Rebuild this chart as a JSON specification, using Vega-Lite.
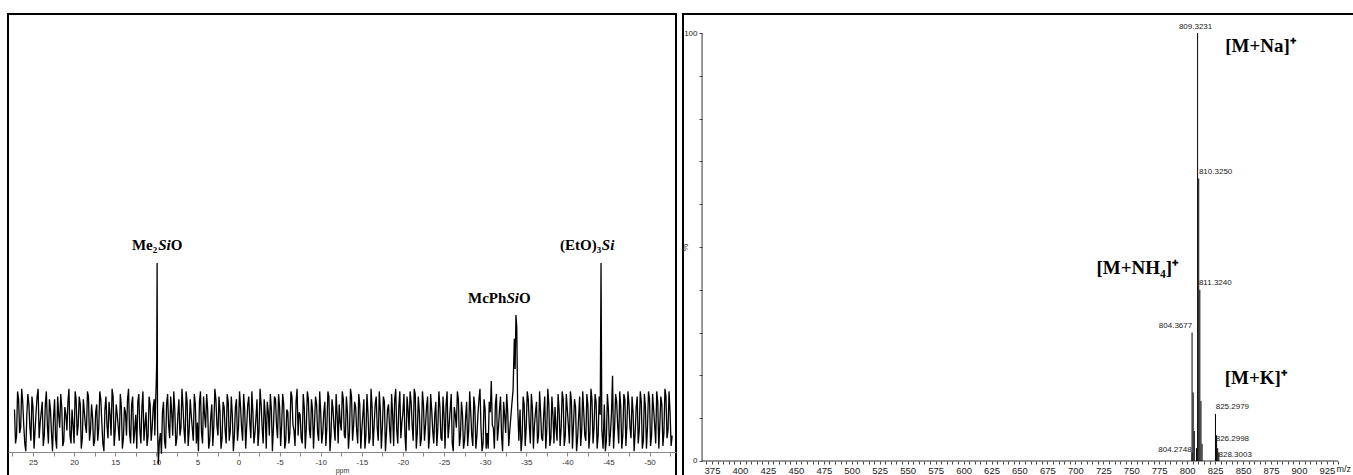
{
"$schema": "https://vega.github.io/schema/vega-lite/v6.json",
"padding": {"left": 7, "top": 13, "right": 0, "bottom": 0},
"background": "white",
"spacing": 7,
"bounds": "flush",
"config": {"view": {"stroke": "black", "strokeWidth": 2}, "axis": {"labelFont": "Liberation Sans", "titleFont": "Liberation Sans", "grid": false}},
"datasets": {
"nmr": [
{"p":27.25,"i":4},{"p":27.125,"i":-9},{"p":27,"i":-6},{"p":26.875,"i":11},{"p":26.75,"i":8},{"p":26.625,"i":-5},{"p":26.5,"i":-3},{"p":26.375,"i":12},{"p":26.25,"i":7},{"p":26.125,"i":-2},{"p":26,"i":-9},{"p":25.875,"i":-12},{"p":25.75,"i":2},{"p":25.625,"i":10},{"p":25.5,"i":6},{"p":25.375,"i":-3},{"p":25.25,"i":-8},{"p":25.125,"i":9},{"p":25,"i":5},{"p":24.875,"i":-11},{"p":24.75,"i":-4},{"p":24.625,"i":3},{"p":24.5,"i":9},{"p":24.375,"i":12},{"p":24.25,"i":-7},{"p":24.125,"i":-1},{"p":24,"i":3},{"p":23.875,"i":7},{"p":23.75,"i":-10},{"p":23.625,"i":-6},{"p":23.5,"i":6},{"p":23.375,"i":11},{"p":23.25,"i":-2},{"p":23.125,"i":-9},{"p":23,"i":8},{"p":22.875,"i":4},{"p":22.75,"i":-5},{"p":22.625,"i":-12},{"p":22.5,"i":1},{"p":22.375,"i":8},
{"p":22.25,"i":-7},{"p":22.125,"i":-11},{"p":22,"i":9},{"p":21.875,"i":2},{"p":21.75,"i":-3},{"p":21.625,"i":10},{"p":21.5,"i":5},{"p":21.375,"i":-10},{"p":21.25,"i":-8},{"p":21.125,"i":5},{"p":21,"i":2},{"p":20.875,"i":-4},{"p":20.75,"i":7},{"p":20.625,"i":12},{"p":20.5,"i":-6},{"p":20.375,"i":-9},{"p":20.25,"i":4},{"p":20.125,"i":-2},{"p":20,"i":-9},{"p":19.875,"i":11},{"p":19.75,"i":8},{"p":19.625,"i":-6},{"p":19.5,"i":-2},{"p":19.375,"i":9},{"p":19.25,"i":6},{"p":19.125,"i":-11},{"p":19,"i":-7},{"p":18.875,"i":8},{"p":18.75,"i":3},{"p":18.625,"i":-2},{"p":18.5,"i":-5},{"p":18.375,"i":11},{"p":18.25,"i":9},{"p":18.125,"i":-8},{"p":18,"i":-4},{"p":17.875,"i":6},{"p":17.75,"i":1},{"p":17.625,"i":-10},{"p":17.5,"i":-8},{"p":17.375,"i":3},
{"p":17.25,"i":6},{"p":17.125,"i":-8},{"p":17,"i":-3},{"p":16.875,"i":11},{"p":16.75,"i":8},{"p":16.625,"i":-1},{"p":16.5,"i":-9},{"p":16.375,"i":-12},{"p":16.25,"i":4},{"p":16.125,"i":9},{"p":16,"i":-2},{"p":15.875,"i":-7},{"p":15.75,"i":7},{"p":15.625,"i":2},{"p":15.5,"i":-6},{"p":15.375,"i":12},{"p":15.25,"i":9},{"p":15.125,"i":-10},{"p":15,"i":-4},{"p":14.875,"i":6},{"p":14.75,"i":2},{"p":14.625,"i":-3},{"p":14.5,"i":-8},{"p":14.375,"i":10},{"p":14.25,"i":5},{"p":14.125,"i":-11},{"p":14,"i":-7},{"p":13.875,"i":5},{"p":13.75,"i":3},{"p":13.625,"i":-6},{"p":13.5,"i":8},{"p":13.375,"i":12},{"p":13.25,"i":-5},{"p":13.125,"i":-9},{"p":13,"i":6},{"p":12.875,"i":9},{"p":12.75,"i":-9},{"p":12.625,"i":-4},{"p":12.5,"i":2},{"p":12.375,"i":-11},
{"p":12.25,"i":7},{"p":12.125,"i":10},{"p":12,"i":-4},{"p":11.875,"i":-9},{"p":11.75,"i":5},{"p":11.625,"i":11},{"p":11.5,"i":-8},{"p":11.375,"i":-2},{"p":11.25,"i":3},{"p":11.125,"i":-10},{"p":11,"i":-6},{"p":10.875,"i":9},{"p":10.75,"i":6},{"p":10.625,"i":-8},{"p":10.5,"i":-3},{"p":10.375,"i":5},{"p":10.25,"i":8},{"p":10.18,"i":-6},
{"p":10.1,"i":5},{"p":10,"i":15},{"p":9.95,"i":23},{"p":9.9,"i":60.4},{"p":9.85,"i":-3},{"p":9.75,"i":-17},{"p":9.625,"i":-8},
{"p":9.5,"i":-5},{"p":9.375,"i":-13},{"p":9.25,"i":3},{"p":9.125,"i":7},{"p":9,"i":-8},{"p":8.875,"i":-11},{"p":8.75,"i":6},{"p":8.625,"i":10},{"p":8.5,"i":-2},{"p":8.375,"i":-7},{"p":8.25,"i":9},{"p":8.125,"i":3},{"p":8,"i":-6},{"p":7.875,"i":11},{"p":7.75,"i":4},{"p":7.625,"i":-10},{"p":7.5,"i":-7},{"p":7.375,"i":2},{"p":7.25,"i":8},{"p":7.125,"i":-6},{"p":7,"i":-3},{"p":6.875,"i":12},{"p":6.75,"i":5},{"p":6.625,"i":-4},{"p":6.5,"i":-9},{"p":6.375,"i":11},{"p":6.25,"i":7},{"p":6.125,"i":-10},{"p":6,"i":-4},{"p":5.875,"i":8},{"p":5.75,"i":2},{"p":5.625,"i":-3},{"p":5.5,"i":-8},{"p":5.375,"i":10},{"p":5.25,"i":6},{"p":5.125,"i":-9},{"p":5,"i":-1},{"p":4.875,"i":-12},
{"p":4.75,"i":7},{"p":4.625,"i":11},{"p":4.5,"i":-5},{"p":4.375,"i":-9},{"p":4.25,"i":9},{"p":4.125,"i":2},{"p":4,"i":-3},{"p":3.875,"i":10},{"p":3.75,"i":4},{"p":3.625,"i":-11},{"p":3.5,"i":-8},{"p":3.375,"i":1},{"p":3.25,"i":6},{"p":3.125,"i":-10},{"p":3,"i":-2},{"p":2.875,"i":12},{"p":2.75,"i":8},{"p":2.625,"i":-2},{"p":2.5,"i":-6},{"p":2.375,"i":9},{"p":2.25,"i":3},{"p":2.125,"i":-11},{"p":2,"i":-7},{"p":1.875,"i":7},{"p":1.75,"i":5},{"p":1.625,"i":-4},{"p":1.5,"i":-9},{"p":1.375,"i":10},{"p":1.25,"i":7},{"p":1.125,"i":-8},{"p":1,"i":-4},{"p":0.875,"i":9},{"p":0.75,"i":2},{"p":0.625,"i":-12},{"p":0.5,"i":-6},{"p":0.375,"i":5},{"p":0.25,"i":8},{"p":0.125,"i":-8},{"p":0,"i":-3},{"p":-0.125,"i":11},
{"p":-0.25,"i":5},{"p":-0.375,"i":-3},{"p":-0.5,"i":-8},{"p":-0.625,"i":10},{"p":-0.75,"i":4},{"p":-0.875,"i":-11},{"p":-1,"i":-2},{"p":-1.125,"i":6},{"p":-1.25,"i":9},{"p":-1.375,"i":-1},{"p":-1.5,"i":-7},{"p":-1.625,"i":11},{"p":-1.75,"i":3},{"p":-1.875,"i":-9},{"p":-2,"i":-5},{"p":-2.125,"i":1},{"p":-2.25,"i":8},{"p":-2.375,"i":-10},{"p":-2.5,"i":-4},{"p":-2.625,"i":12},{"p":-2.75,"i":6},{"p":-2.875,"i":-3},{"p":-3,"i":-9},{"p":-3.125,"i":8},{"p":-3.25,"i":2},{"p":-3.375,"i":-11},{"p":-3.5,"i":7},{"p":-3.625,"i":3},{"p":-3.75,"i":-6},{"p":-3.875,"i":10},{"p":-4,"i":4},{"p":-4.125,"i":-12},{"p":-4.25,"i":-3},{"p":-4.375,"i":9},{"p":-4.5,"i":8},{"p":-4.625,"i":-2},{"p":-4.75,"i":-7},{"p":-4.875,"i":10},{"p":-5,"i":5},{"p":-5.125,"i":-10},
{"p":-5.25,"i":-2},{"p":-5.375,"i":10},{"p":-5.5,"i":6},{"p":-5.625,"i":-11},{"p":-5.75,"i":-8},{"p":-5.875,"i":4},{"p":-6,"i":3},{"p":-6.125,"i":-9},{"p":-6.25,"i":-5},{"p":-6.375,"i":11},{"p":-6.5,"i":9},{"p":-6.625,"i":-2},{"p":-6.75,"i":-4},{"p":-6.875,"i":-10},{"p":-7,"i":7},{"p":-7.125,"i":12},{"p":-7.25,"i":-6},{"p":-7.375,"i":3},{"p":-7.5,"i":2},{"p":-7.625,"i":-7},{"p":-7.75,"i":-9},{"p":-7.875,"i":10},{"p":-8,"i":5},{"p":-8.125,"i":-11},{"p":-8.25,"i":-3},{"p":-8.375,"i":11},{"p":-8.5,"i":8},{"p":-8.625,"i":-4},{"p":-8.75,"i":-7},{"p":-8.875,"i":8},{"p":-9,"i":4},{"p":-9.125,"i":-11},{"p":-9.25,"i":-1},{"p":-9.375,"i":9},{"p":-9.5,"i":6},{"p":-9.625,"i":-5},{"p":-9.75,"i":-8},{"p":-9.875,"i":11},{"p":-10,"i":3},{"p":-10.125,"i":-9},
{"p":-10.25,"i":-5},{"p":-10.375,"i":3},{"p":-10.5,"i":7},{"p":-10.625,"i":-10},{"p":-10.75,"i":-3},{"p":-10.875,"i":11},{"p":-11,"i":9},{"p":-11.125,"i":-12},{"p":-11.25,"i":-6},{"p":-11.375,"i":8},{"p":-11.5,"i":4},{"p":-11.625,"i":-3},{"p":-11.75,"i":-8},{"p":-11.875,"i":10},{"p":-12,"i":2},{"p":-12.125,"i":-9},{"p":-12.25,"i":6},{"p":-12.375,"i":-1},{"p":-12.5,"i":-4},{"p":-12.625,"i":11},{"p":-12.75,"i":8},{"p":-12.875,"i":-6},{"p":-13,"i":-7},{"p":-13.125,"i":9},{"p":-13.25,"i":3},{"p":-13.375,"i":-11},{"p":-13.5,"i":-5},{"p":-13.625,"i":12},{"p":-13.75,"i":9},{"p":-13.875,"i":-8},{"p":-14,"i":-2},{"p":-14.125,"i":7},{"p":-14.25,"i":5},{"p":-14.375,"i":-4},{"p":-14.5,"i":-9},{"p":-14.625,"i":10},{"p":-14.75,"i":6},{"p":-14.875,"i":-11},{"p":-15,"i":-4},{"p":-15.125,"i":2},
{"p":-15.25,"i":8},{"p":-15.375,"i":-11},{"p":-15.5,"i":-6},{"p":-15.625,"i":10},{"p":-15.75,"i":3},{"p":-15.875,"i":-9},{"p":-16,"i":-7},{"p":-16.125,"i":12},{"p":-16.25,"i":5},{"p":-16.375,"i":-10},{"p":-16.5,"i":-2},{"p":-16.625,"i":6},{"p":-16.75,"i":9},{"p":-16.875,"i":-3},{"p":-17,"i":-8},{"p":-17.125,"i":11},{"p":-17.25,"i":4},{"p":-17.375,"i":-11},{"p":-17.5,"i":-3},{"p":-17.625,"i":9},{"p":-17.75,"i":7},{"p":-17.875,"i":-12},{"p":-18,"i":-5},{"p":-18.125,"i":4},{"p":-18.25,"i":6},{"p":-18.375,"i":-3},{"p":-18.5,"i":-9},{"p":-18.625,"i":10},{"p":-18.75,"i":2},{"p":-18.875,"i":-10},{"p":-19,"i":8},{"p":-19.125,"i":12},{"p":-19.25,"i":-4},{"p":-19.375,"i":-9},{"p":-19.5,"i":5},{"p":-19.625,"i":11},{"p":-19.75,"i":-7},{"p":-19.875,"i":-1},{"p":-20,"i":3},{"p":-20.125,"i":10},
{"p":-20.25,"i":-6},{"p":-20.375,"i":-12},{"p":-20.5,"i":9},{"p":-20.625,"i":4},{"p":-20.75,"i":-4},{"p":-20.875,"i":11},{"p":-21,"i":7},{"p":-21.125,"i":-2},{"p":-21.25,"i":-8},{"p":-21.375,"i":12},{"p":-21.5,"i":10},{"p":-21.625,"i":-11},{"p":-21.75,"i":-5},{"p":-21.875,"i":9},{"p":-22,"i":3},{"p":-22.125,"i":-10},{"p":-22.25,"i":-7},{"p":-22.375,"i":11},{"p":-22.5,"i":6},{"p":-22.625,"i":-8},{"p":-22.75,"i":-2},{"p":-22.875,"i":5},{"p":-23,"i":9},{"p":-23.125,"i":-11},{"p":-23.25,"i":-6},{"p":-23.375,"i":10},{"p":-23.5,"i":4},{"p":-23.625,"i":-4},{"p":-23.75,"i":-9},{"p":-23.875,"i":2},{"p":-24,"i":7},{"p":-24.125,"i":-10},{"p":-24.25,"i":-3},{"p":-24.375,"i":11},{"p":-24.5,"i":5},{"p":-24.625,"i":-7},{"p":-24.75,"i":-8},{"p":-24.875,"i":9},{"p":-25,"i":2},{"p":-25.125,"i":-11},
{"p":-25.25,"i":6},{"p":-25.375,"i":11},{"p":-25.5,"i":-7},{"p":-25.625,"i":-2},{"p":-25.75,"i":4},{"p":-25.875,"i":10},{"p":-26,"i":-9},{"p":-26.125,"i":-12},{"p":-26.25,"i":5},{"p":-26.375,"i":2},{"p":-26.5,"i":-3},{"p":-26.625,"i":11},{"p":-26.75,"i":8},{"p":-26.875,"i":-10},{"p":-27,"i":-6},{"p":-27.125,"i":7},{"p":-27.25,"i":2},{"p":-27.375,"i":-11},{"p":-27.5,"i":-8},{"p":-27.625,"i":1},{"p":-27.75,"i":7},{"p":-27.875,"i":-10},{"p":-28,"i":-4},{"p":-28.125,"i":11},{"p":-28.25,"i":3},{"p":-28.375,"i":-6},{"p":-28.5,"i":-10},{"p":-28.625,"i":9},{"p":-28.75,"i":5},{"p":-28.875,"i":-11},{"p":-29,"i":-6},{"p":-29.125,"i":2},{"p":-29.25,"i":8},{"p":-29.375,"i":12},{"p":-29.5,"i":-3},{"p":-29.625,"i":-12},{"p":-29.75,"i":-9},{"p":-29.875,"i":8},{"p":-30,"i":4},{"p":-30.125,"i":-11},
{"p":-30.25,"i":-5},{"p":-30.375,"i":-11},{"p":-30.5,"i":7},{"p":-30.625,"i":3},{"p":-30.75,"i":15},{"p":-30.875,"i":-2},{"p":-31,"i":-3},{"p":-31.125,"i":-11},{"p":-31.25,"i":6},{"p":-31.375,"i":10},{"p":-31.5,"i":-8},{"p":-31.625,"i":-3},{"p":-31.75,"i":4},{"p":-31.875,"i":9},{"p":-32,"i":-6},{"p":-32.125,"i":-12},{"p":-32.25,"i":7},{"p":-32.375,"i":2},{"p":-32.5,"i":-5},{"p":-32.625,"i":10},{"p":-32.75,"i":3},{"p":-32.875,"i":-10},{"p":-33,"i":-4},{"p":-33.125,"i":1},
{"p":-33.25,"i":6},{"p":-33.4,"i":11.5},{"p":-33.55,"i":31.2},{"p":-33.65,"i":19.6},{"p":-33.75,"i":40.4},{"p":-33.85,"i":35.8},{"p":-33.95,"i":7},{"p":-34.1,"i":-8},
{"p":-34.25,"i":4},{"p":-34.375,"i":-12},{"p":-34.5,"i":-7},{"p":-34.625,"i":9},{"p":-34.75,"i":6},{"p":-34.875,"i":-10},{"p":-35,"i":-3},{"p":-35.125,"i":11},{"p":-35.25,"i":8},{"p":-35.375,"i":-2},{"p":-35.5,"i":-9},{"p":-35.625,"i":10},{"p":-35.75,"i":5},{"p":-35.875,"i":-11},{"p":-36,"i":-2},{"p":-36.125,"i":3},{"p":-36.25,"i":7},{"p":-36.375,"i":-9},{"p":-36.5,"i":-6},{"p":-36.625,"i":11},{"p":-36.75,"i":3},{"p":-36.875,"i":-7},{"p":-37,"i":-8},{"p":-37.125,"i":2},{"p":-37.25,"i":9},{"p":-37.375,"i":-11},{"p":-37.5,"i":-4},{"p":-37.625,"i":12},{"p":-37.75,"i":6},{"p":-37.875,"i":-10},{"p":-38,"i":-7},{"p":-38.125,"i":9},{"p":-38.25,"i":2},{"p":-38.375,"i":-9},{"p":-38.5,"i":5},{"p":-38.625,"i":-3},{"p":-38.75,"i":-8},{"p":-38.875,"i":10},{"p":-39,"i":4},{"p":-39.125,"i":-10},
{"p":-39.25,"i":-3},{"p":-39.375,"i":11},{"p":-39.5,"i":8},{"p":-39.625,"i":-10},{"p":-39.75,"i":-6},{"p":-39.875,"i":10},{"p":-40,"i":4},{"p":-40.125,"i":-2},{"p":-40.25,"i":-9},{"p":-40.375,"i":11},{"p":-40.5,"i":7},{"p":-40.625,"i":-11},{"p":-40.75,"i":-2},{"p":-40.875,"i":8},{"p":-41,"i":5},{"p":-41.125,"i":-12},{"p":-41.25,"i":-7},{"p":-41.375,"i":1},{"p":-41.5,"i":9},{"p":-41.625,"i":-10},{"p":-41.75,"i":-4},{"p":-41.875,"i":11},{"p":-42,"i":3},{"p":-42.125,"i":-6},{"p":-42.25,"i":-8},{"p":-42.375,"i":10},{"p":-42.5,"i":6},{"p":-42.625,"i":-11},{"p":-42.75,"i":-5},{"p":-42.875,"i":12},{"p":-43,"i":8},{"p":-43.125,"i":-9},{"p":-43.25,"i":-3},{"p":-43.375,"i":10},{"p":-43.5,"i":7},{"p":-43.625,"i":-11},{"p":-43.75,"i":-6},{"p":-43.875,"i":9},{"p":-44,"i":2},
{"p":-44.1,"i":60.4},{"p":-44.2,"i":-4},{"p":-44.35,"i":-11},
{"p":-44.5,"i":6},{"p":-44.625,"i":-12},{"p":-44.75,"i":-8},{"p":-44.875,"i":10},{"p":-45,"i":4},{"p":-45.125,"i":-10},{"p":-45.25,"i":-5},{"p":-45.375,"i":3},{"p":-45.5,"i":17},{"p":-45.625,"i":-11},{"p":-45.75,"i":-3},{"p":-45.875,"i":10},{"p":-46,"i":7},{"p":-46.125,"i":-2},{"p":-46.25,"i":-9},{"p":-46.375,"i":11},{"p":-46.5,"i":5},{"p":-46.625,"i":-11},{"p":-46.75,"i":-6},{"p":-46.875,"i":10},{"p":-47,"i":8},{"p":-47.125,"i":-10},{"p":-47.25,"i":-2},{"p":-47.375,"i":11},{"p":-47.5,"i":6},{"p":-47.625,"i":-3},{"p":-47.75,"i":-7},{"p":-47.875,"i":9},{"p":-48,"i":3},{"p":-48.125,"i":-12},{"p":-48.25,"i":-5},{"p":-48.375,"i":5},{"p":-48.5,"i":9},{"p":-48.625,"i":-9},{"p":-48.75,"i":-4},{"p":-48.875,"i":11},{"p":-49,"i":7},{"p":-49.125,"i":-11},{"p":-49.25,"i":-8},{"p":-49.375,"i":10},
{"p":-49.5,"i":5},{"p":-49.625,"i":-11},{"p":-49.75,"i":-3},{"p":-49.875,"i":11},{"p":-50,"i":8},{"p":-50.125,"i":-10},{"p":-50.25,"i":-6},{"p":-50.375,"i":10},{"p":-50.5,"i":4},{"p":-50.625,"i":-2},{"p":-50.75,"i":-9},{"p":-50.875,"i":11},{"p":-51,"i":7},{"p":-51.125,"i":-11},{"p":-51.25,"i":-2},{"p":-51.375,"i":9},{"p":-51.5,"i":6},{"p":-51.625,"i":-10},{"p":-51.75,"i":-5},{"p":-51.875,"i":12},{"p":-52,"i":9},{"p":-52.125,"i":-7},{"p":-52.25,"i":-4},{"p":-52.375,"i":11},{"p":-52.5,"i":3},{"p":-52.625,"i":-10},{"p":-52.75,"i":-6}
],
"nmrlab": [
{"p":12.96,"i":65.4,"t":"Me₂","it":0},
{"p":9.76,"i":65.4,"t":"Si","it":1},
{"p":8.24,"i":65.4,"t":"O","it":0},
{"p":-27.92,"i":45,"t":"McPh","it":0},
{"p":-32.59,"i":45,"t":"Si","it":1},
{"p":-34.11,"i":45,"t":"O","it":0},
{"p":-39.11,"i":65.4,"t":"(EtO)₃","it":0},
{"p":-44.2,"i":65.4,"t":"Si","it":1}
],
"ms": [
{"mz":804.27,"v":2},{"mz":804.37,"v":30},{"mz":805.37,"v":16},{"mz":806.37,"v":7},{"mz":808.32,"v":3},{"mz":809.32,"v":100},{"mz":810.33,"v":66},{"mz":811.32,"v":40},{"mz":812.32,"v":14},{"mz":813.32,"v":4},{"mz":825.30,"v":11},{"mz":826.30,"v":6},{"mz":827.30,"v":3},{"mz":828.30,"v":2}
],
"msaxis": [
{"mz":366.1,"mz2":366.1,"v":0,"v2":100},
{"mz":366.1,"mz2":935,"v":0,"v2":0}
],
"mslab": [
{"mz":807.5,"v":101.3,"t":"809.3231","a":"c"},
{"mz":810.5,"v":67.5,"t":"810.3250","a":"l"},
{"mz":810.5,"v":41.5,"t":"811.3240","a":"l"},
{"mz":804.5,"v":31.5,"t":"804.3677","a":"r"},
{"mz":825.5,"v":12.6,"t":"825.2979","a":"l"},
{"mz":825.5,"v":5.1,"t":"826.2998","a":"l"},
{"mz":828,"v":1.5,"t":"828.3003","a":"l"},
{"mz":804,"v":2.6,"t":"804.2748","a":"r"}
],
"msann": [
{"mz":834.0,"v":97,"t":"[M+Na]⁺"},
{"mz":718.9,"v":45,"t":"[M+NH₄]⁺"},
{"mz":833.6,"v":19.5,"t":"[M+K]⁺"}
]
},
"hconcat": [
{
"width": 668, "height": 463,
"encoding": {
"x": {"field": "p", "type": "quantitative", "scale": {"domain": [28.04, -53.22], "nice": false, "zero": false},
"axis": {"values": [27.5,25,22.5,20,17.5,15,12.5,10,7.5,5,2.5,0,-2.5,-5,-7.5,-10,-12.5,-15,-17.5,-20,-22.5,-25,-27.5,-30,-32.5,-35,-37.5,-40,-42.5,-45,-47.5,-50,-52.5],
"labelExpr": "datum.value % 5 === 0 ? '' + datum.value : ''", "offset": -25, "title": "ppm", "titleFontSize": 7, "titleFontWeight": "normal", "titlePadding": 0, "titleColor": "#333", "labelFontSize": 8, "labelColor": "#333", "labelPadding": 2, "tickSize": 4, "domainColor": "#888", "tickColor": "#888", "labelOverlap": false, "labelFlush": false}},
"y": {"field": "i", "type": "quantitative", "scale": {"domain": [-21.92, 156.15], "nice": false, "zero": false}, "axis": null}
},
"layer": [
{"data": {"name": "nmr"}, "mark": {"type": "line", "color": "black", "strokeWidth": 1.3}},
{"data": {"name": "nmrlab"}, "transform": [{"filter": "datum.it === 0"}], "mark": {"type": "text", "align": "left", "baseline": "alphabetic", "font": "Liberation Serif", "fontWeight": "bold", "fontSize": 15, "color": "black"}, "encoding": {"text": {"field": "t"}}},
{"data": {"name": "nmrlab"}, "transform": [{"filter": "datum.it === 1"}], "mark": {"type": "text", "align": "left", "baseline": "alphabetic", "font": "Liberation Serif", "fontWeight": "bold", "fontStyle": "italic", "fontSize": 15, "color": "black"}, "encoding": {"text": {"field": "t"}}}
]
},
{
"width": 672, "height": 463,
"encoding": {
"x": {"field": "mz", "type": "quantitative", "scale": {"domain": [349.06, 950.1], "nice": false, "zero": false},
"axis": {"values": [370,375,380,385,390,395,400,405,410,415,420,425,430,435,440,445,450,455,460,465,470,475,480,485,490,495,500,505,510,515,520,525,530,535,540,545,550,555,560,565,570,575,580,585,590,595,600,605,610,615,620,625,630,635,640,645,650,655,660,665,670,675,680,685,690,695,700,705,710,715,720,725,730,735,740,745,750,755,760,765,770,775,780,785,790,795,800,805,810,815,820,825,830,835,840,845,850,855,860,865,870,875,880,885,890,895,900,905,910,915,920,925,930,935],
"labelExpr": "datum.value % 25 === 0 && datum.value >= 375 && datum.value <= 925 ? '' + datum.value : ''", "offset": -16, "domain": false, "tickSize": 3, "tickColor": "#444", "labelFontSize": 9.5, "labelColor": "#222", "labelPadding": 1, "labelOverlap": false, "labelFlush": false,
"title": "m/z", "titleX": 653, "titleY": 7, "titleAlign": "left", "titleBaseline": "middle", "titleFontSize": 9, "titleFontWeight": "normal", "titleColor": "#222"}},
"y": {"field": "v", "type": "quantitative", "scale": {"domain": [-3.74, 104.44], "nice": false, "zero": false},
"axis": {"values": [0,10,20,30,40,50,60,70,80,90,100], "labelExpr": "datum.value === 0 || datum.value === 100 ? '' + datum.value : ''", "offset": -19, "domain": false, "tickSize": 3, "tickColor": "#444", "labelFontSize": 8, "labelColor": "#222", "labelPadding": 2,
"title": "%", "titleX": -13, "titleY": 233, "titleFontSize": 9, "titleFontWeight": "normal", "titleColor": "#222"}}
},
"layer": [
{"data": {"name": "msaxis"}, "mark": {"type": "rule", "color": "#333", "strokeWidth": 1}, "encoding": {"x2": {"field": "mz2"}, "y2": {"field": "v2"}}},
{"data": {"name": "ms"}, "mark": {"type": "rule", "color": "black", "strokeWidth": 1}, "encoding": {"y2": {"datum": 0}}},
{"data": {"name": "mslab"}, "transform": [{"filter": "datum.a === 'l'"}], "mark": {"type": "text", "align": "left", "baseline": "middle", "fontSize": 8, "font": "Liberation Sans", "color": "#222"}, "encoding": {"text": {"field": "t"}}},
{"data": {"name": "mslab"}, "transform": [{"filter": "datum.a === 'r'"}], "mark": {"type": "text", "align": "right", "baseline": "middle", "fontSize": 8, "font": "Liberation Sans", "color": "#222"}, "encoding": {"text": {"field": "t"}}},
{"data": {"name": "mslab"}, "transform": [{"filter": "datum.a === 'c'"}], "mark": {"type": "text", "align": "center", "baseline": "middle", "fontSize": 8, "font": "Liberation Sans", "color": "#222"}, "encoding": {"text": {"field": "t"}}},
{"data": {"name": "msann"}, "mark": {"type": "text", "align": "left", "baseline": "middle", "fontSize": 19, "font": "Liberation Serif", "fontWeight": "bold", "color": "black"}, "encoding": {"text": {"field": "t"}}}
]
}
]
}
